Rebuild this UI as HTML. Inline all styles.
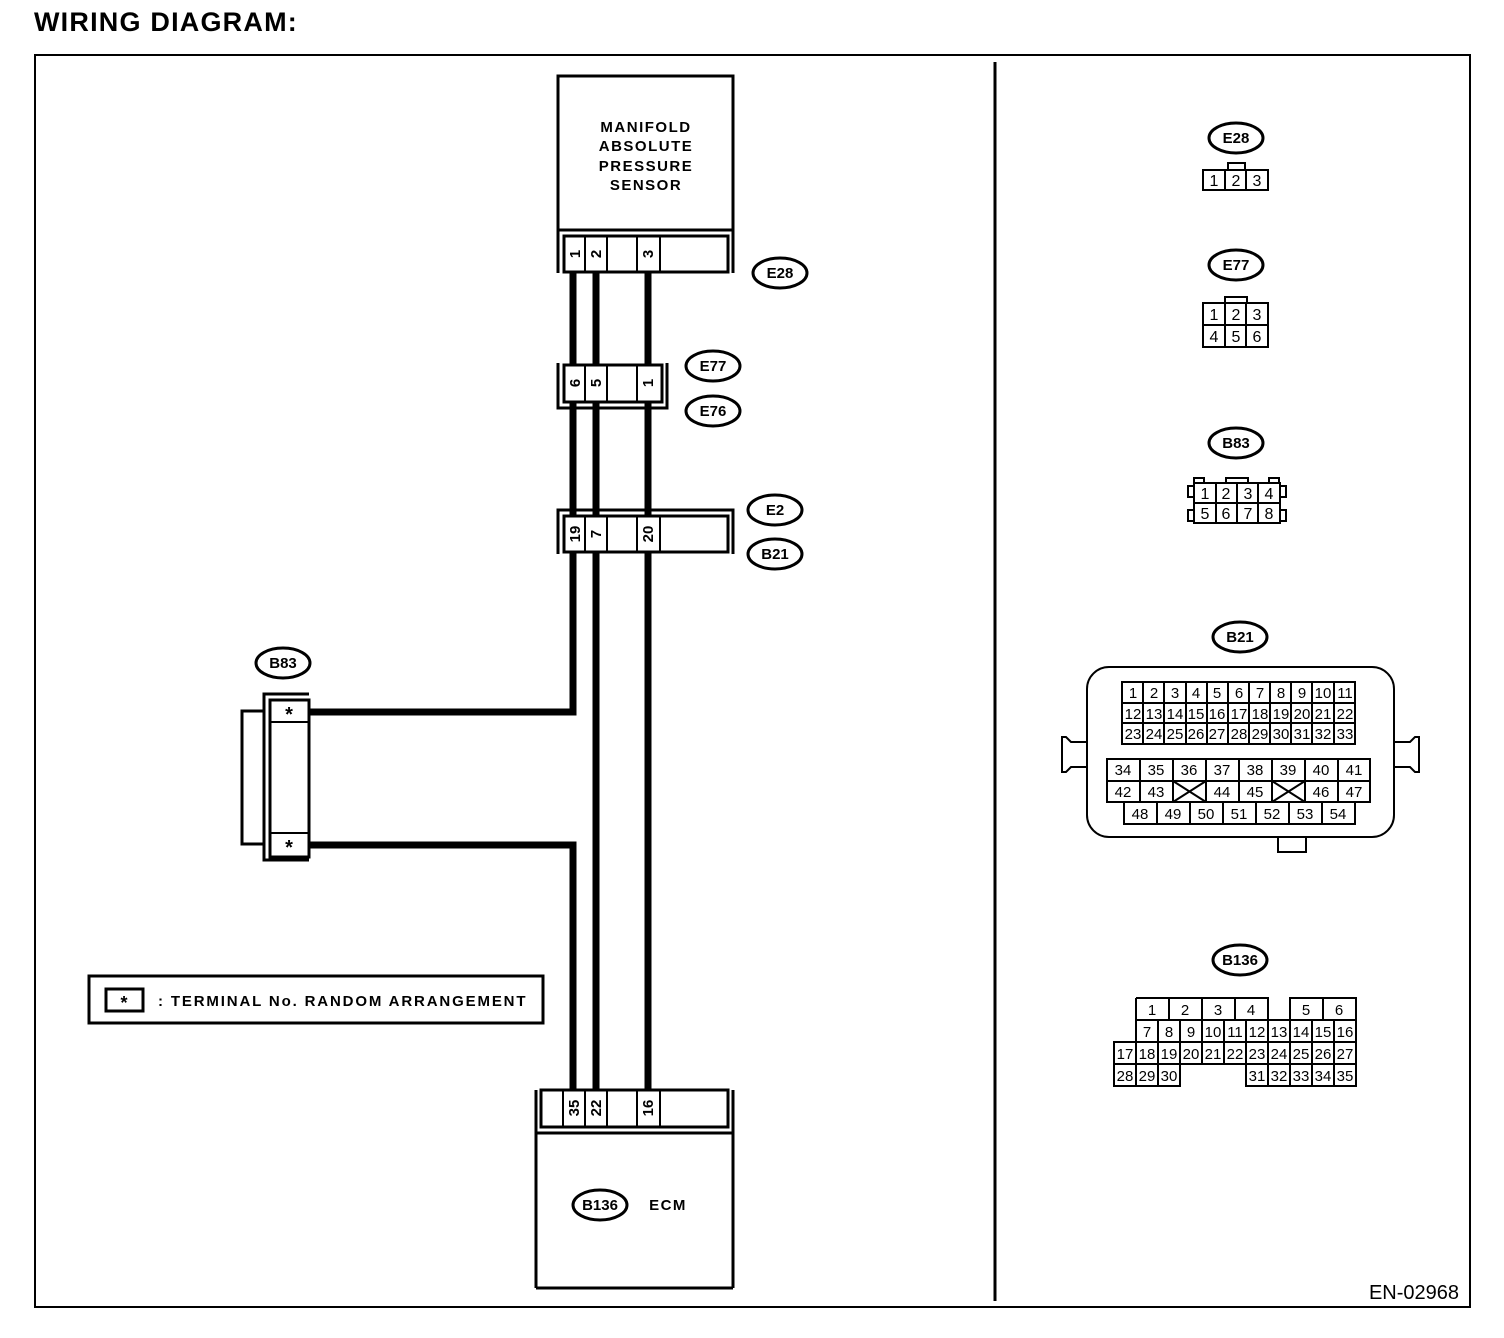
<!DOCTYPE html>
<html><head><meta charset="utf-8"><style>
html,body{margin:0;padding:0;background:#fff;}
svg{display:block;font-family:"Liberation Sans",Arial,sans-serif;}
</style></head><body>
<svg width="1504" height="1338" viewBox="0 0 1504 1338" xmlns="http://www.w3.org/2000/svg">
<text x="34" y="31" font-size="27" font-weight="bold" letter-spacing="1.2">WIRING DIAGRAM:</text>
<rect x="35" y="55" width="1435" height="1252" fill="none" stroke="#000" stroke-width="2"/>
<line x1="995" y1="62" x2="995" y2="1301" stroke="#000" stroke-width="3"/>

<g stroke="#000" stroke-width="7" fill="none">
<polyline points="573,272 573,712 310,712"/>
<polyline points="310,845 573,845 573,1090"/>
<line x1="596" y1="272" x2="596" y2="1090"/>
<line x1="648" y1="272" x2="648" y2="1090"/>
</g>

<g stroke="#000" fill="#fff">
<rect x="558" y="76" width="175" height="154" stroke-width="3"/>
<line x1="558" y1="230" x2="558" y2="273" stroke-width="3"/>
<line x1="733" y1="230" x2="733" y2="273" stroke-width="3"/>
<rect x="564" y="236" width="164" height="36" stroke-width="3"/>
<path d="M585 236V272M607 236V272M637 236V272M660 236V272" stroke-width="2"/>
</g>
<g font-size="15" font-weight="bold" text-anchor="middle" letter-spacing="1.5">
<text x="646" y="132">MANIFOLD</text>
<text x="646" y="151">ABSOLUTE</text>
<text x="646" y="171">PRESSURE</text>
<text x="646" y="190">SENSOR</text>
</g>
<g font-size="15" font-weight="bold" text-anchor="middle">
<text transform="translate(580,254) rotate(-90)">1</text>
<text transform="translate(601,254) rotate(-90)">2</text>
<text transform="translate(653,254) rotate(-90)">3</text>
</g>

<g stroke="#000" fill="#fff">
<polyline points="558,363 558,408 667,408 667,363" fill="none" stroke-width="3"/>
<rect x="564" y="365" width="98" height="37" stroke-width="3"/>
<path d="M585 365V402M607 365V402M637 365V402" stroke-width="2"/>
</g>
<g font-size="15" font-weight="bold" text-anchor="middle">
<text transform="translate(580,383) rotate(-90)">6</text>
<text transform="translate(601,383) rotate(-90)">5</text>
<text transform="translate(653,383) rotate(-90)">1</text>
</g>

<g stroke="#000" fill="#fff">
<polyline points="558,554 558,510 733,510 733,554" fill="none" stroke-width="3"/>
<rect x="564" y="516" width="164" height="36" stroke-width="3"/>
<path d="M585 516V552M607 516V552M637 516V552M660 516V552" stroke-width="2"/>
</g>
<g font-size="15" font-weight="bold" text-anchor="middle">
<text transform="translate(580,534) rotate(-90)">19</text>
<text transform="translate(601,534) rotate(-90)">7</text>
<text transform="translate(653,534) rotate(-90)">20</text>
</g>

<g stroke="#000" stroke-width="3" fill="#fff">
<ellipse cx="780" cy="273" rx="27" ry="15"/>
<ellipse cx="713" cy="366" rx="27" ry="15"/>
<ellipse cx="713" cy="411" rx="27" ry="15"/>
<ellipse cx="775" cy="510" rx="27" ry="15"/>
<ellipse cx="775" cy="554" rx="27" ry="15"/>
<ellipse cx="283" cy="663" rx="27" ry="15"/>
<ellipse cx="600" cy="1205" rx="27" ry="15"/>
</g>
<g font-size="15" font-weight="bold" text-anchor="middle">
<text x="780" y="278">E28</text>
<text x="713" y="371">E77</text>
<text x="713" y="416">E76</text>
<text x="775" y="515">E2</text>
<text x="775" y="559">B21</text>
<text x="283" y="668">B83</text>
<text x="600" y="1210">B136</text>
<text x="668" y="1210" letter-spacing="1.5">ECM</text>
</g>

<g stroke="#000" fill="#fff">
<rect x="242" y="711" width="22" height="133" stroke-width="3"/>
<polyline points="309,694 264,694 264,860 309,860" fill="none" stroke-width="3"/>
<rect x="270" y="700" width="39" height="157" stroke-width="3"/>
<path d="M270 722H309M270 833H309" stroke-width="2"/>
</g>
<text x="289" y="721" font-size="20" font-weight="bold" text-anchor="middle">*</text>
<text x="289" y="854" font-size="20" font-weight="bold" text-anchor="middle">*</text>

<rect x="89" y="976" width="454" height="47" fill="none" stroke="#000" stroke-width="3"/>
<rect x="106" y="989" width="37" height="22" fill="none" stroke="#000" stroke-width="3"/>
<text x="124" y="1009" font-size="18" font-weight="bold" text-anchor="middle">*</text>
<text x="158" y="1006" font-size="15" font-weight="bold" letter-spacing="1.85">: TERMINAL No. RANDOM ARRANGEMENT</text>

<g stroke="#000" fill="#fff">
<line x1="536" y1="1090" x2="536" y2="1288" stroke-width="3"/>
<line x1="733" y1="1090" x2="733" y2="1288" stroke-width="3"/>
<line x1="536" y1="1133" x2="733" y2="1133" stroke-width="3"/>
<line x1="536" y1="1288" x2="733" y2="1288" stroke-width="3"/>
<rect x="541" y="1090" width="187" height="37" stroke-width="3"/>
<path d="M563 1090V1127M585 1090V1127M607 1090V1127M637 1090V1127M660 1090V1127" stroke-width="2"/>
</g>
<g font-size="15" font-weight="bold" text-anchor="middle">
<text transform="translate(579,1108) rotate(-90)">35</text>
<text transform="translate(601,1108) rotate(-90)">22</text>
<text transform="translate(653,1108) rotate(-90)">16</text>
</g>

<g stroke="#000" stroke-width="3" fill="#fff">
<ellipse cx="1236" cy="138" rx="27" ry="15"/>
<ellipse cx="1236" cy="265" rx="27" ry="15"/>
<ellipse cx="1236" cy="443" rx="27" ry="15"/>
<ellipse cx="1240" cy="637" rx="27" ry="15"/>
<ellipse cx="1240" cy="960" rx="27" ry="15"/>
</g>
<g font-size="15" font-weight="bold" text-anchor="middle">
<text x="1236" y="143">E28</text>
<text x="1236" y="270">E77</text>
<text x="1236" y="448">B83</text>
<text x="1240" y="642">B21</text>
<text x="1240" y="965">B136</text>
</g>

<g stroke="#000" stroke-width="2" fill="none">
<rect x="1228" y="163" width="17" height="7"/>
<rect x="1203" y="170" width="65" height="20" fill="#fff"/>
<path d="M1225 170V190M1246 170V190"/>
<rect x="1225" y="297" width="22" height="6"/>
<rect x="1203" y="303" width="65" height="44" fill="#fff"/>
<path d="M1225 303V347M1246 303V347M1203 325H1268"/>
<rect x="1194" y="478" width="10" height="5"/><rect x="1226" y="478" width="22" height="5"/><rect x="1269" y="478" width="10" height="5"/>
<path d="M1194 483V523M1280 483V523M1188 486H1194V497H1188ZM1188 510H1194V521H1188ZM1286 486H1280V497H1286ZM1286 510H1280V521H1286Z"/>
<rect x="1194" y="483" width="86" height="40" fill="#fff"/>
<path d="M1216 483V523M1237 483V523M1258 483V523M1194 503H1280"/>
<rect x="1087" y="667" width="307" height="170" rx="22" fill="#fff"/>
<path d="M1278 837V852H1306V837"/>
<path d="M1087 742H1071L1066 737H1062V772H1066L1071 767H1087"/>
<path d="M1394 742H1410L1415 737H1419V772H1415L1410 767H1394"/>
<rect x="1122" y="682" width="233" height="62"/>
<path d="M1122 703H1355M1122 723H1355"/>
<path d="M1143 682V744M1164 682V744M1186 682V744M1207 682V744M1228 682V744M1249 682V744M1270 682V744M1291 682V744M1312 682V744M1334 682V744"/>
<rect x="1107" y="759" width="263" height="43"/>
<path d="M1107 781H1370M1140 759V802M1173 759V802M1206 759V802M1239 759V802M1272 759V802M1305 759V802M1338 759V802"/>
<path d="M1173 781L1206 802M1206 781L1173 802M1272 781L1305 802M1305 781L1272 802"/>
<rect x="1124" y="802" width="231" height="22"/>
<path d="M1157 802V824M1190 802V824M1223 802V824M1256 802V824M1289 802V824M1322 802V824"/>
<path d="M1136 998H1268V1020M1290 1020V998H1356V1086H1246V1064M1136 998V1042H1114V1086H1180V1064"/>
<path d="M1136 1020H1356M1114 1042H1356M1114 1064H1356"/>
<path d="M1169 998V1020M1202 998V1020M1235 998V1020M1323 998V1020M1268 1020V1042"/>
<path d="M1158 1020V1086M1180 1020V1064M1202 1020V1064M1224 1020V1064M1246 1020V1064M1290 1020V1086M1312 1020V1086M1334 1020V1086M1268 1042V1086M1136 1042V1086"/>
</g>

<g font-size="16" text-anchor="middle">
<text x="1214" y="186">1</text><text x="1236" y="186">2</text><text x="1257" y="186">3</text>
<text x="1214" y="320">1</text><text x="1236" y="320">2</text><text x="1257" y="320">3</text>
<text x="1214" y="342">4</text><text x="1236" y="342">5</text><text x="1257" y="342">6</text>
<text x="1205" y="499">1</text><text x="1226" y="499">2</text><text x="1248" y="499">3</text><text x="1269" y="499">4</text>
<text x="1205" y="519">5</text><text x="1226" y="519">6</text><text x="1248" y="519">7</text><text x="1269" y="519">8</text>
</g>
<g font-size="15" text-anchor="middle">
<text x="1133" y="698">1</text><text x="1154" y="698">2</text><text x="1175" y="698">3</text><text x="1196" y="698">4</text><text x="1217" y="698">5</text><text x="1239" y="698">6</text><text x="1260" y="698">7</text><text x="1281" y="698">8</text><text x="1302" y="698">9</text><text x="1323" y="698">10</text><text x="1345" y="698">11</text>
<text x="1133" y="719">12</text><text x="1154" y="719">13</text><text x="1175" y="719">14</text><text x="1196" y="719">15</text><text x="1217" y="719">16</text><text x="1239" y="719">17</text><text x="1260" y="719">18</text><text x="1281" y="719">19</text><text x="1302" y="719">20</text><text x="1323" y="719">21</text><text x="1345" y="719">22</text>
<text x="1133" y="739">23</text><text x="1154" y="739">24</text><text x="1175" y="739">25</text><text x="1196" y="739">26</text><text x="1217" y="739">27</text><text x="1239" y="739">28</text><text x="1260" y="739">29</text><text x="1281" y="739">30</text><text x="1302" y="739">31</text><text x="1323" y="739">32</text><text x="1345" y="739">33</text>
<text x="1123" y="775">34</text><text x="1156" y="775">35</text><text x="1189" y="775">36</text><text x="1222" y="775">37</text><text x="1255" y="775">38</text><text x="1288" y="775">39</text><text x="1321" y="775">40</text><text x="1354" y="775">41</text>
<text x="1123" y="797">42</text><text x="1156" y="797">43</text><text x="1222" y="797">44</text><text x="1255" y="797">45</text><text x="1321" y="797">46</text><text x="1354" y="797">47</text>
<text x="1140" y="819">48</text><text x="1173" y="819">49</text><text x="1206" y="819">50</text><text x="1239" y="819">51</text><text x="1272" y="819">52</text><text x="1305" y="819">53</text><text x="1338" y="819">54</text>
<text x="1152" y="1015">1</text><text x="1185" y="1015">2</text><text x="1218" y="1015">3</text><text x="1251" y="1015">4</text><text x="1306" y="1015">5</text><text x="1339" y="1015">6</text>
<text x="1147" y="1037">7</text><text x="1169" y="1037">8</text><text x="1191" y="1037">9</text><text x="1213" y="1037">10</text><text x="1235" y="1037">11</text><text x="1257" y="1037">12</text><text x="1279" y="1037">13</text><text x="1301" y="1037">14</text><text x="1323" y="1037">15</text><text x="1345" y="1037">16</text>
<text x="1125" y="1059">17</text><text x="1147" y="1059">18</text><text x="1169" y="1059">19</text><text x="1191" y="1059">20</text><text x="1213" y="1059">21</text><text x="1235" y="1059">22</text><text x="1257" y="1059">23</text><text x="1279" y="1059">24</text><text x="1301" y="1059">25</text><text x="1323" y="1059">26</text><text x="1345" y="1059">27</text>
<text x="1125" y="1081">28</text><text x="1147" y="1081">29</text><text x="1169" y="1081">30</text><text x="1257" y="1081">31</text><text x="1279" y="1081">32</text><text x="1301" y="1081">33</text><text x="1323" y="1081">34</text><text x="1345" y="1081">35</text>
</g>
<text x="1459" y="1299" font-size="20" text-anchor="end">EN-02968</text>
</svg>
</body></html>
